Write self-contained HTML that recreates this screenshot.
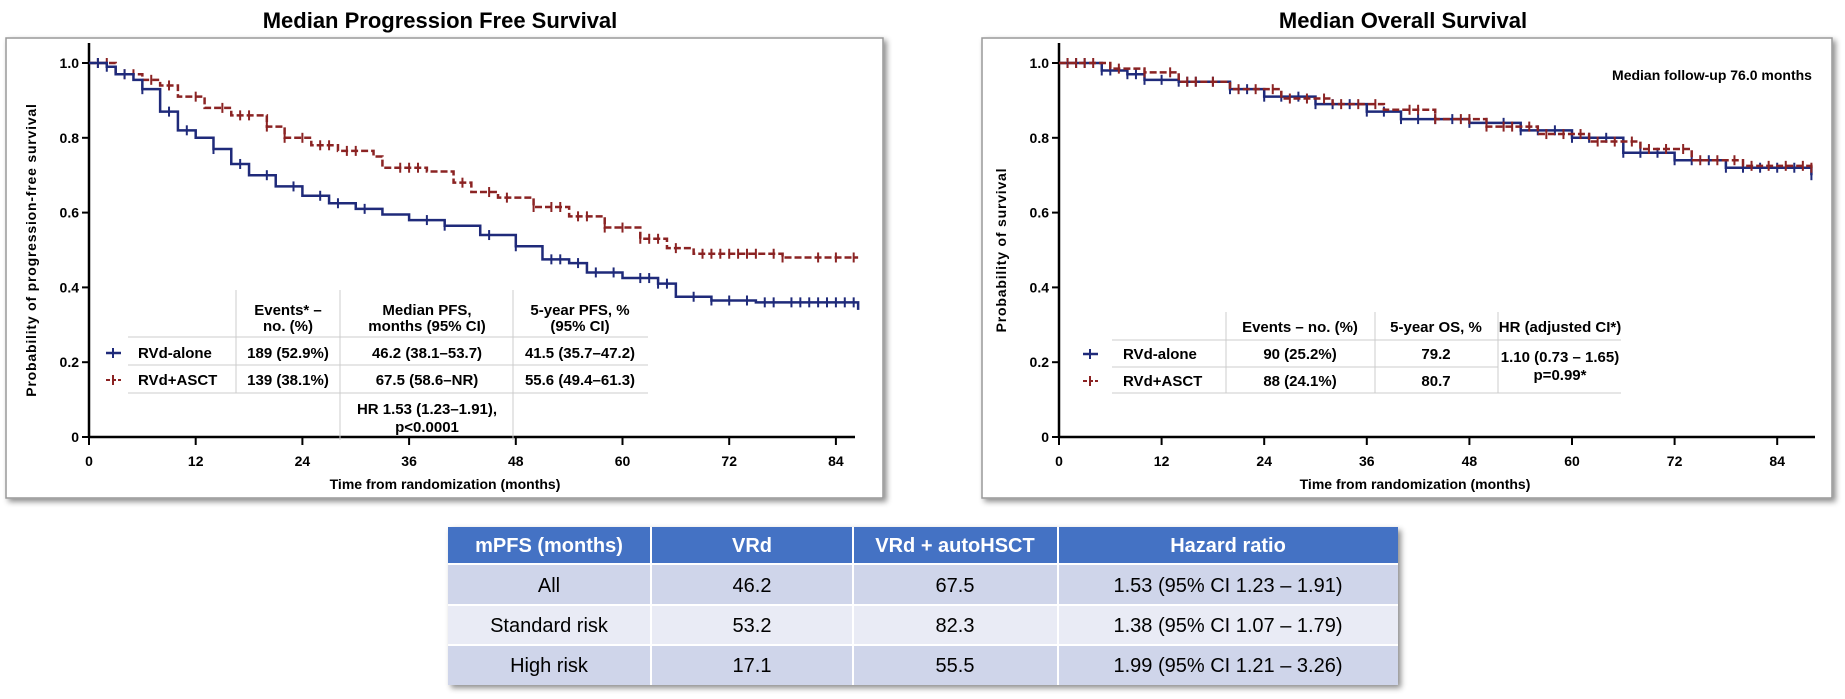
<!DOCTYPE html>
<html><head><meta charset="utf-8"><style>
body{margin:0;background:#fff;width:1845px;height:694px;overflow:hidden;font-family:"Liberation Sans",Arial,sans-serif;}
svg text{font-family:"Liberation Sans",Arial,sans-serif;}
</style></head><body>
<svg id="root" width="1845" height="694" viewBox="0 0 1845 694" xmlns="http://www.w3.org/2000/svg">
<defs>
<filter id="sh" x="-5%" y="-5%" width="110%" height="112%"><feDropShadow dx="3" dy="3" stdDeviation="3" flood-color="#000" flood-opacity="0.45"/></filter>
</defs>
<text x="440" y="28" font-size="22" font-weight="bold" text-anchor="middle">Median Progression Free Survival</text>
<text x="1403" y="28" font-size="22" font-weight="bold" text-anchor="middle">Median Overall Survival</text>
<rect x="6" y="38" width="877" height="460" fill="#fff" stroke="#999" stroke-width="1.5" filter="url(#sh)"/>
<rect x="982" y="38" width="850" height="460" fill="#fff" stroke="#999" stroke-width="1.5" filter="url(#sh)"/>
<g id="pfs"></g>
<g id="os"></g>
<text x="1712" y="80" font-size="14" font-weight="bold" text-anchor="middle">Median follow-up 76.0 months</text>

<g font-size="15" font-weight="bold" text-anchor="middle">
<g stroke="#ccc" stroke-width="1">
<line x1="236" y1="290" x2="236" y2="393"/><line x1="340" y1="290" x2="340" y2="440"/><line x1="513" y1="290" x2="513" y2="440"/>
<line x1="128" y1="337" x2="648" y2="337"/><line x1="128" y1="365" x2="648" y2="365"/><line x1="128" y1="393" x2="648" y2="393"/>
</g>
<text x="288" y="315">Events* –</text><text x="288" y="331">no. (%)</text>
<text x="427" y="315">Median PFS,</text><text x="427" y="331">months (95% CI)</text>
<text x="580" y="315">5-year PFS, %</text><text x="580" y="331">(95% CI)</text>
<g><line x1="106" y1="353" x2="121" y2="353" stroke="#1f2a7a" stroke-width="2.5"/><line x1="113" y1="348" x2="113" y2="358" stroke="#1f2a7a" stroke-width="2"/><text x="138" y="358" text-anchor="start">RVd-alone</text></g>
<g><line x1="106" y1="380" x2="121" y2="380" stroke="#8b2323" stroke-width="2" stroke-dasharray="4,2"/><line x1="113" y1="375" x2="113" y2="385" stroke="#8b2323" stroke-width="2"/><text x="138" y="385" text-anchor="start">RVd+ASCT</text></g>
<text x="288" y="358">189 (52.9%)</text><text x="427" y="358">46.2 (38.1–53.7)</text><text x="580" y="358">41.5 (35.7–47.2)</text>
<text x="288" y="385">139 (38.1%)</text><text x="427" y="385">67.5 (58.6–NR)</text><text x="580" y="385">55.6 (49.4–61.3)</text>
<text x="427" y="414">HR 1.53 (1.23–1.91),</text><text x="427" y="432">p&lt;0.0001</text>
</g>

<g font-size="15" font-weight="bold" text-anchor="middle">
<g stroke="#ccc" stroke-width="1">
<line x1="1226" y1="312" x2="1226" y2="393"/><line x1="1375" y1="312" x2="1375" y2="393"/><line x1="1498" y1="312" x2="1498" y2="393"/>
<line x1="1112" y1="340" x2="1621" y2="340"/><line x1="1112" y1="367" x2="1498" y2="367"/><line x1="1112" y1="393" x2="1621" y2="393"/>
</g>
<text x="1300" y="332">Events – no. (%)</text><text x="1436" y="332">5-year OS, %</text><text x="1560" y="332">HR (adjusted CI*)</text>
<g><line x1="1083" y1="354" x2="1098" y2="354" stroke="#1f2a7a" stroke-width="2.5"/><line x1="1090" y1="349" x2="1090" y2="359" stroke="#1f2a7a" stroke-width="2"/><text x="1123" y="359" text-anchor="start">RVd-alone</text></g>
<g><line x1="1083" y1="381" x2="1098" y2="381" stroke="#8b2323" stroke-width="2" stroke-dasharray="4,2"/><line x1="1090" y1="376" x2="1090" y2="386" stroke="#8b2323" stroke-width="2"/><text x="1123" y="386" text-anchor="start">RVd+ASCT</text></g>
<text x="1300" y="359">90 (25.2%)</text><text x="1436" y="359">79.2</text>
<text x="1300" y="386">88 (24.1%)</text><text x="1436" y="386">80.7</text>
<text x="1560" y="362">1.10 (0.73 – 1.65)</text><text x="1560" y="380">p=0.99*</text>
</g>

<g font-size="20">
<rect x="448" y="527" width="950" height="158" fill="#cfd5ea" filter="url(#sh)"/>
<rect x="448" y="527" width="950" height="36" fill="#4472c4"/>
<rect x="448" y="605" width="950" height="40" fill="#e9ebf5"/>
<g stroke="#fff" stroke-width="2">
<line x1="651" y1="527" x2="651" y2="685"/><line x1="853" y1="527" x2="853" y2="685"/><line x1="1058" y1="527" x2="1058" y2="685"/>
<line x1="448" y1="564" x2="1398" y2="564"/><line x1="448" y1="605" x2="1398" y2="605"/><line x1="448" y1="645" x2="1398" y2="645"/>
</g>
<g font-weight="bold" fill="#fff" text-anchor="middle">
<text x="549" y="552">mPFS (months)</text><text x="752" y="552">VRd</text><text x="955" y="552">VRd + autoHSCT</text><text x="1228" y="552">Hazard ratio</text>
</g>
<g text-anchor="middle" fill="#000">
<text x="549" y="592">All</text><text x="752" y="592">46.2</text><text x="955" y="592">67.5</text><text x="1228" y="592">1.53 (95% CI 1.23 – 1.91)</text>
<text x="549" y="632">Standard risk</text><text x="752" y="632">53.2</text><text x="955" y="632">82.3</text><text x="1228" y="632">1.38 (95% CI 1.07 – 1.79)</text>
<text x="549" y="672">High risk</text><text x="752" y="672">17.1</text><text x="955" y="672">55.5</text><text x="1228" y="672">1.99 (95% CI 1.21 – 3.26)</text>
</g>
</g>
</svg>
<script>
const pfsAloneT=[0,2,3,5,6,8,10,12,14,16,18,21,24,27,30,33,36,40,44,48,51,54,56,60,64,66,70,75,86.5];
const pfsAloneS=[1,0.99,0.97,0.955,0.93,0.87,0.82,0.80,0.77,0.73,0.70,0.67,0.645,0.625,0.61,0.595,0.58,0.565,0.54,0.51,0.475,0.465,0.44,0.425,0.41,0.375,0.365,0.36,0.34];
const pfsAsctT=[0,3,6,8,10,13,16,20,22,25,28,32,33,38,41,43,46,50,54,58,62,65,68,74,78,86.5];
const pfsAsctS=[1,0.97,0.955,0.94,0.91,0.88,0.86,0.83,0.80,0.78,0.765,0.75,0.72,0.71,0.68,0.655,0.64,0.615,0.59,0.56,0.53,0.505,0.49,0.49,0.48,0.48];
const pfsAloneCens=[1,2,4,6,9,11,14,17,20,23,26,28,31,38,40,45,48,52,53,55,57,59,62,63,64,65,68,70,72,74,76,77,79,80,81,82,83,84,85,86];
const pfsAsctCens=[1,2,4,5,7,9,12,15,17,18,20,22,24,26,27,29,30,35,36,37,42,45,47,50,52,53,55,56,58,60,62,63,64,66,69,70,71,72,73,74,75,77,78,82,84,86];
const osAloneT=[0,5,8,10,14,20,24,30,36,40,48,54,60,66,72,78,88];
const osAloneS=[1,0.98,0.97,0.955,0.95,0.93,0.91,0.89,0.87,0.85,0.84,0.82,0.80,0.76,0.74,0.72,0.70];
const osAsctT=[0,6,10,14,20,26,32,38,44,50,56,62,68,74,80,88];
const osAsctS=[1,0.985,0.975,0.95,0.93,0.905,0.89,0.875,0.85,0.83,0.81,0.79,0.77,0.74,0.725,0.72];
const osAloneCens=[1,2,3,5,6,8,9,10,12,14,15,16,18,20,22,24,26,28,30,32,34,36,38,40,42,44,46,48,50,52,54,56,58,60,62,64,66,68,70,72,74,76,78,80,82,84,86,88];
const osAsctCens=[1,2,3,4,7,10,13,15,16,18,21,23,25,27,29,31,33,35,37,41,42,44,47,48,50,52,53,55,57,59,61,63,65,67,69,71,73,75,77,79,81,83,85,87,88];
const xTicks=[0,12,24,36,48,60,72,84];
const yTicks=[0,0.2,0.4,0.6,0.8,1.0];
const yTickLabels=["0","0.2","0.4","0.6","0.8","1.0"];
const NS="http://www.w3.org/2000/svg";
function mk(tag,attrs,parent){const e=document.createElementNS(NS,tag);for(const k in attrs)e.setAttribute(k,attrs[k]);parent.appendChild(e);return e;}
function stepAt(T,S,t){let v=S[0];for(let i=0;i<T.length;i++){if(T[i]<=t)v=S[i];}return v;}
function drawChart(g,x0,xEnd,pxPer12,ytitle,series){
  const top=63,bot=437,axisTop=43;
  const xs=m=>x0+m*(pxPer12/12);
  const ys=p=>bot-p*(bot-top);
  const yax=mk('line',{x1:x0,y1:axisTop,x2:x0,y2:bot,stroke:'#000','stroke-width':2.5},g);
  
  
  const xax=mk('line',{x1:x0,y1:bot,x2:xEnd,y2:bot,stroke:'#000','stroke-width':2.5},g);
  
  
  yTicks.forEach((v,i)=>{
    mk('line',{x1:x0-7,y1:ys(v),x2:x0,y2:ys(v),stroke:'#000','stroke-width':2},g);
    const t=mk('text',{x:x0-10,y:ys(v)+5,'font-size':14,'font-weight':'bold','text-anchor':'end'},g);
    t.textContent=yTickLabels[i];
    
    
  });
  xTicks.forEach(v=>{
    mk('line',{x1:xs(v),y1:bot,x2:xs(v),y2:bot+8,stroke:'#000','stroke-width':2},g);
    const t=mk('text',{x:xs(v),y:bot+29,'font-size':14,'font-weight':'bold','text-anchor':'middle'},g);
    t.textContent=String(v);
    
    
  });
  const xt=mk('text',{x:x0+356,y:489,'font-size':14,'font-weight':'bold','text-anchor':'middle'},g);
  xt.textContent='Time from randomization (months)';
  
  
  const yt=mk('text',{x:0,y:0,'font-size':14,'font-weight':'bold','text-anchor':'middle',transform:`translate(${x0-53},250) rotate(-90)`,'letter-spacing':'0.8'},g);
  yt.textContent=ytitle;
  
  
  series.forEach(s=>{
    let d=`M${xs(s.T[0])},${ys(s.S[0])}`;
    for(let i=1;i<s.T.length;i++){d+=` H${xs(s.T[i])} V${ys(s.S[i])}`;}
    const p=mk('path',{d:d,fill:'none',stroke:s.color,'stroke-width':2.5},g);
    if(s.dash)p.setAttribute('stroke-dasharray',s.dash);
    
    
    s.C.forEach(t=>{
      const v=stepAt(s.T,s.S,t);
      const c=mk('line',{x1:xs(t),y1:ys(v)-5,x2:xs(t),y2:ys(v)+5,stroke:s.color,'stroke-width':2},g);
      
      
    });
  });
}
drawChart(document.getElementById('pfs'),89,855,106.7,'Probability of progression-free survival',[
  {T:pfsAsctT,S:pfsAsctS,C:pfsAsctCens,color:'#8b2323',dash:'7,3',name:'pfs-rvd-asct'},
  {T:pfsAloneT,S:pfsAloneS,C:pfsAloneCens,color:'#1f2a7a',name:'pfs-rvd-alone'}]);
drawChart(document.getElementById('os'),1059,1815,102.6,'Probability of survival',[
  {T:osAloneT,S:osAloneS,C:osAloneCens,color:'#1f2a7a',name:'os-rvd-alone'},
  {T:osAsctT,S:osAsctS,C:osAsctCens,color:'#8b2323',dash:'7,3',name:'os-rvd-asct'}]);
</script>
</body></html>
